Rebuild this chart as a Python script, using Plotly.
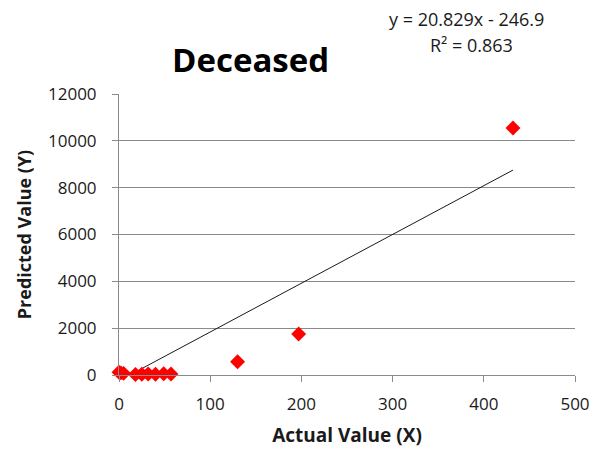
import plotly.graph_objects as go

# Data
actual_x = [0, 2, 5, 18, 25, 32, 40, 49, 57, 130, 197, 432]
predicted_y = [120, 90, 70, 20, 30, 40, 30, 50, 40, 570, 1750, 10550]

# Trendline as reported on the chart
slope = 20.829
intercept = -246.9
equation_text = "y = 20.829x - 246.9"
r2_text = "R² = 0.863"

x_ticks = [0, 100, 200, 300, 400, 500]
y_ticks = [0, 2000, 4000, 6000, 8000, 10000, 12000]

trend_x = [min(actual_x), max(actual_x)]
trend_y = [slope * v + intercept for v in trend_x]

FONT = "Open Sans"
GRID = "#8a8a8a"
TXT = "#1a1a1a"

fig = go.Figure()
fig.add_trace(go.Scatter(
    x=trend_x, y=trend_y, mode="lines",
    line=dict(color="#1a1a1a", width=1),
    hoverinfo="skip", showlegend=False,
))
fig.add_trace(go.Scatter(
    x=actual_x, y=predicted_y, mode="markers",
    marker=dict(symbol="diamond", size=11.5, color="#ff0000", line=dict(width=0)),
    cliponaxis=False, showlegend=False,
))

fig.update_layout(
    width=601, height=453,
    margin=dict(l=119, r=26, t=94, b=78),
    paper_bgcolor="white", plot_bgcolor="white",
    font=dict(family=FONT, size=16, color=TXT),
    xaxis=dict(
        range=[0, 500], tickvals=x_ticks, ticktext=[str(v) for v in x_ticks],
        showgrid=False, zeroline=False, automargin=False,
        showline=True, linecolor=GRID, linewidth=1,
        ticks="outside", ticklen=6, tickcolor=GRID, ticklabelstandoff=8,
        tickfont=dict(family=FONT, size=17, color=TXT),
        title=dict(text="<b>Actual Value (X)</b>", font=dict(family=FONT, size=19, color=TXT), standoff=14),
    ),
    yaxis=dict(
        range=[0, 12000], tickvals=y_ticks, ticktext=[str(v) for v in y_ticks],
        showgrid=True, gridcolor=GRID, gridwidth=1, automargin=False,
        zeroline=False, showline=True, linecolor=GRID, linewidth=1,
        ticks="outside", ticklen=6, tickcolor=GRID, ticklabelstandoff=12,
        tickfont=dict(family=FONT, size=17, color=TXT),
        title=dict(text="<b>Predicted Value (Y)</b>", font=dict(family=FONT, size=18, color=TXT), standoff=11),
    ),
    annotations=[
        dict(text="<b>Deceased</b>", xref="paper", yref="paper",
             x=(250 - 119) / 456, y=1 + (94 - 60) / 281, xanchor="center", yanchor="middle",
             showarrow=False, font=dict(family=FONT, size=33, color="#000000")),
        dict(text=equation_text, xref="paper", yref="paper",
             x=(466 - 119) / 456, y=1 + (94 - 19) / 281, xanchor="center", yanchor="middle",
             showarrow=False, font=dict(family=FONT, size=18, color=TXT)),
        dict(text=r2_text, xref="paper", yref="paper",
             x=(471 - 119) / 456, y=1 + (94 - 45) / 281, xanchor="center", yanchor="middle",
             showarrow=False, font=dict(family=FONT, size=18, color=TXT)),
    ],
)

fig.write_html("out.html")
